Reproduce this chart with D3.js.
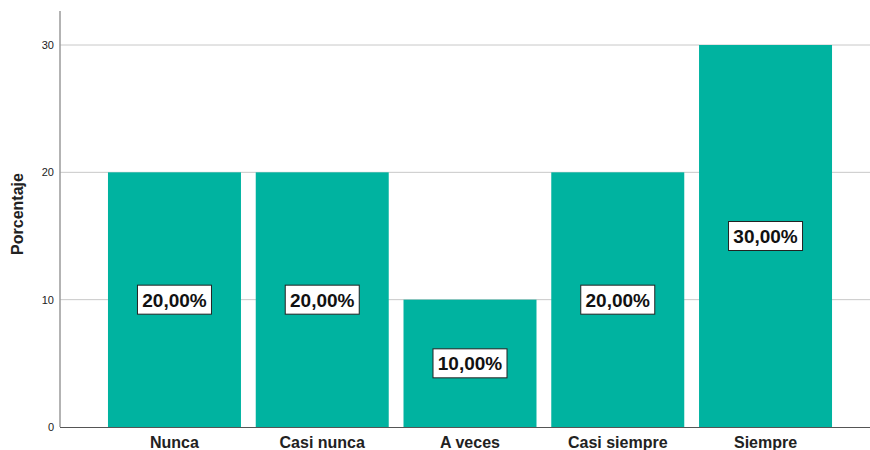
<!DOCTYPE html>
<html>
<head>
<meta charset="utf-8">
<script src="https://cdn.jsdelivr.net/npm/d3@7"></script>
<style>
  body { margin: 0; background: #fff; }
  svg { display: block; font-family: Arial, "Liberation Sans", sans-serif; }
</style>
</head>
<body>
<svg id="chart" width="870" height="450"></svg>
<script>
const categories = ["Nunca", "Casi nunca", "A veces", "Casi siempre", "Siempre"];
const percents = [20, 20, 10, 20, 30];
const yTicks = [0, 10, 20, 30];

const BAR = "#00b3a0";

const svg = d3.select("#chart");

const x = d3.scaleBand()
  .domain(categories)
  .range([70, 870])
  .paddingInner(0.1)
  .paddingOuter(0.257);

const y = d3.scaleLinear()
  .domain([0, 30])
  .range([427, 45]);

// gridlines
svg.append("g")
  .selectAll("line")
  .data(yTicks.filter(d => d > 0))
  .join("line")
  .attr("x1", 60).attr("x2", 870)
  .attr("y1", d => y(d)).attr("y2", d => y(d))
  .attr("stroke", "#c8c8c8")
  .attr("stroke-width", 1);

// bars
const data = categories.map((c, i) => ({ cat: c, value: percents[i] }));

svg.append("g")
  .selectAll("rect")
  .data(data)
  .join("rect")
  .attr("x", d => x(d.cat))
  .attr("y", d => y(d.value))
  .attr("width", x.bandwidth())
  .attr("height", d => y(0) - y(d.value))
  .attr("fill", BAR);

// y axis
const yAxis = svg.append("g")
  .attr("transform", "translate(60,0)")
  .call(d3.axisLeft(y).tickValues(yTicks).tickSize(0).tickPadding(6));
yAxis.select(".domain").remove();
yAxis.selectAll("text")
  .attr("font-size", 11)
  .attr("font-family", "Arial, 'Liberation Sans', sans-serif")
  .attr("fill", "#222");

svg.append("line")
  .attr("x1", 60).attr("x2", 60)
  .attr("y1", 11).attr("y2", y(0))
  .attr("stroke", "#9a9a9a")
  .attr("stroke-width", 1.5);

// baseline
svg.append("line")
  .attr("x1", 60).attr("x2", 870)
  .attr("y1", y(0) + 0.5).attr("y2", y(0) + 0.5)
  .attr("stroke", "#555")
  .attr("stroke-width", 1);

// x labels
svg.append("g")
  .selectAll("text")
  .data(categories)
  .join("text")
  .attr("x", d => x(d) + x.bandwidth() / 2)
  .attr("y", 448)
  .attr("text-anchor", "middle")
  .attr("font-size", 16)
  .attr("font-weight", "bold")
  .attr("fill", "#222")
  .text(d => d);

// y title
svg.append("text")
  .attr("transform", "translate(23,214) rotate(-90)")
  .attr("text-anchor", "middle")
  .attr("font-size", 16)
  .attr("font-weight", "bold")
  .attr("fill", "#222")
  .text("Porcentaje");

// value labels
const fmt = v => v.toFixed(2).replace(".", ",") + "%";

const labels = svg.append("g")
  .selectAll("g")
  .data(data)
  .join("g")
  .attr("transform", d => `translate(${x(d.cat) + x.bandwidth() / 2},${(y(d.value) + y(0)) / 2})`);

labels.append("rect")
  .attr("x", -37).attr("y", -14.5)
  .attr("width", 74).attr("height", 29)
  .attr("fill", "#fff")
  .attr("stroke", "#222")
  .attr("stroke-width", 1);

labels.append("text")
  .attr("text-anchor", "middle")
  .attr("dy", "0.36em")
  .attr("font-size", 19)
  .attr("font-weight", "bold")
  .attr("fill", "#111")
  .text(d => fmt(d.value));
</script>
</body>
</html>
